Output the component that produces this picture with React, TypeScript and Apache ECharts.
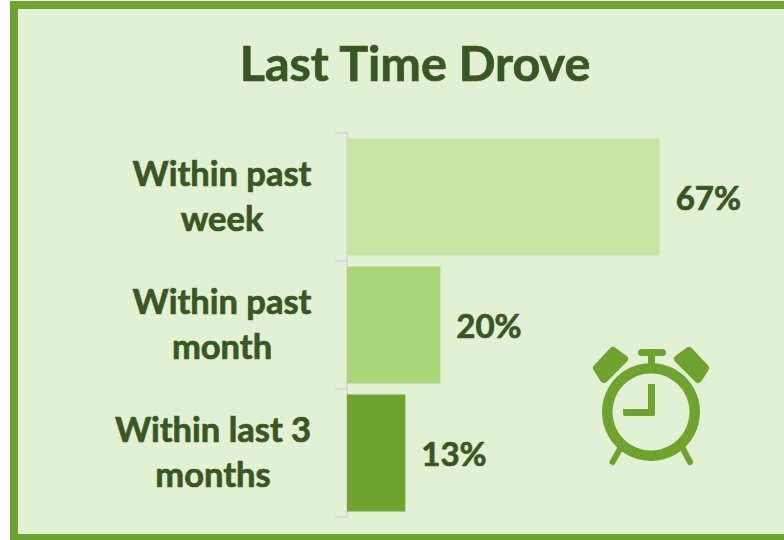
import React, { useEffect, useRef } from "react";
import * as echarts from "echarts";

const titleText = "Last Time Drove";
const categories = ["Within past\nweek", "Within past\nmonth", "Within last 3\nmonths"];
const values = [67, 20, 12.5];
const valueLabels = ["67%", "20%", "13%"];
const barColors = ["#C6E4A3", "#A9D676", "#6FA32F"];

const DARK = "#385723";
const GREEN = "#6FA32F";
const BG = "#E2F0D3";
const FONT = "Lato, 'Open Sans', sans-serif";
const EMBOLDEN = { textBorderColor: DARK, textBorderWidth: 0.7 };

export default function App() {
  const ref = useRef<HTMLDivElement>(null);
  useEffect(() => {
    const chart = echarts.init(ref.current!, null, { renderer: "svg" });
    const labelBase = { fontFamily: FONT, fontWeight: 700, fontSize: 34.5, color: DARK, lineHeight: 45, align: "center", ...EMBOLDEN };
    const bellStyle = { fill: GREEN, stroke: GREEN, lineWidth: 8, lineJoin: "round" };
    chart.setOption({
      animation: false,
      backgroundColor: "#FFFFFF",
      title: {
        text: titleText,
        left: 410,
        top: 32,
        textAlign: "center",
        textStyle: { fontFamily: FONT, fontWeight: 700, fontSize: 48.5, color: DARK, ...EMBOLDEN },
      },
      grid: { left: 347, top: 133, width: 420, height: 384, containLabel: false },
      xAxis: { type: "value", min: 0, max: 90, show: false },
      yAxis: {
        type: "category",
        inverse: true,
        offset: 1,
        data: categories,
        axisLine: { show: true, lineStyle: { color: "#D9D9D9", width: 2 } },
        axisTick: { show: true, length: 12, lineStyle: { color: "#D9D9D9", width: 2 } },
        axisLabel: {
          margin: 35,
          align: "right",
          interval: 0,
          padding: [0, 0, 4, 0],
          formatter: (v: string) => {
            const key = v.startsWith("Within last") ? "wide" : "narrow";
            return v.split("\n").map((l) => `{${key}|${l}}`).join("\n");
          },
          rich: {
            narrow: { ...labelBase, width: 178 },
            wide: { ...labelBase, width: 196 },
          },
        },
      },
      series: [
        {
          type: "bar",
          barWidth: 117,
          data: values.map((v, i) => ({ value: v, itemStyle: { color: barColors[i] } })),
          label: {
            show: true,
            position: "right",
            distance: 16,
            formatter: (p: any) => valueLabels[p.dataIndex],
            fontFamily: FONT,
            fontWeight: 700,
            fontSize: 33,
            color: DARK,
            ...EMBOLDEN,
          },
        },
      ],
      graphic: [
        {
          type: "rect",
          z: -10,
          silent: true,
          shape: { x: 14, y: 5, width: 790, height: 533 },
          style: { fill: BG, stroke: GREEN, lineWidth: 8 },
        },
        {
          type: "group",
          silent: true,
          children: [
            { type: "ring", shape: { cx: 651, cy: 412, r: 49, r0: 38.5 }, style: { fill: GREEN } },
            { type: "polygon", shape: { points: [[613, 351], [624, 359], [604, 379], [597, 368]] }, style: bellStyle },
            { type: "polygon", shape: { points: [[689, 351], [678, 359], [698, 379], [705, 368]] }, style: bellStyle },
            { type: "rect", shape: { x: 638, y: 349, width: 28, height: 7, r: 3.5 }, style: { fill: GREEN } },
            { type: "rect", shape: { x: 648, y: 354, width: 7, height: 12 }, style: { fill: GREEN } },
            { type: "rect", shape: { x: 648, y: 384, width: 7, height: 32, r: [0, 0, 2, 0] }, style: { fill: GREEN } },
            { type: "rect", shape: { x: 623, y: 409, width: 32, height: 7, r: [0, 0, 2, 2] }, style: { fill: GREEN } },
            { type: "line", shape: { x1: 620, y1: 449, x2: 612.5, y2: 462 }, style: { stroke: GREEN, lineWidth: 6, lineCap: "round" } },
            { type: "line", shape: { x1: 683, y1: 449, x2: 690, y2: 462 }, style: { stroke: GREEN, lineWidth: 6, lineCap: "round" } },
          ],
        },
      ],
    });
    return () => chart.dispose();
  }, []);
  return <div ref={ref} style={{ position: "fixed", left: 0, top: 0, width: 784, height: 540 }} />;
}
